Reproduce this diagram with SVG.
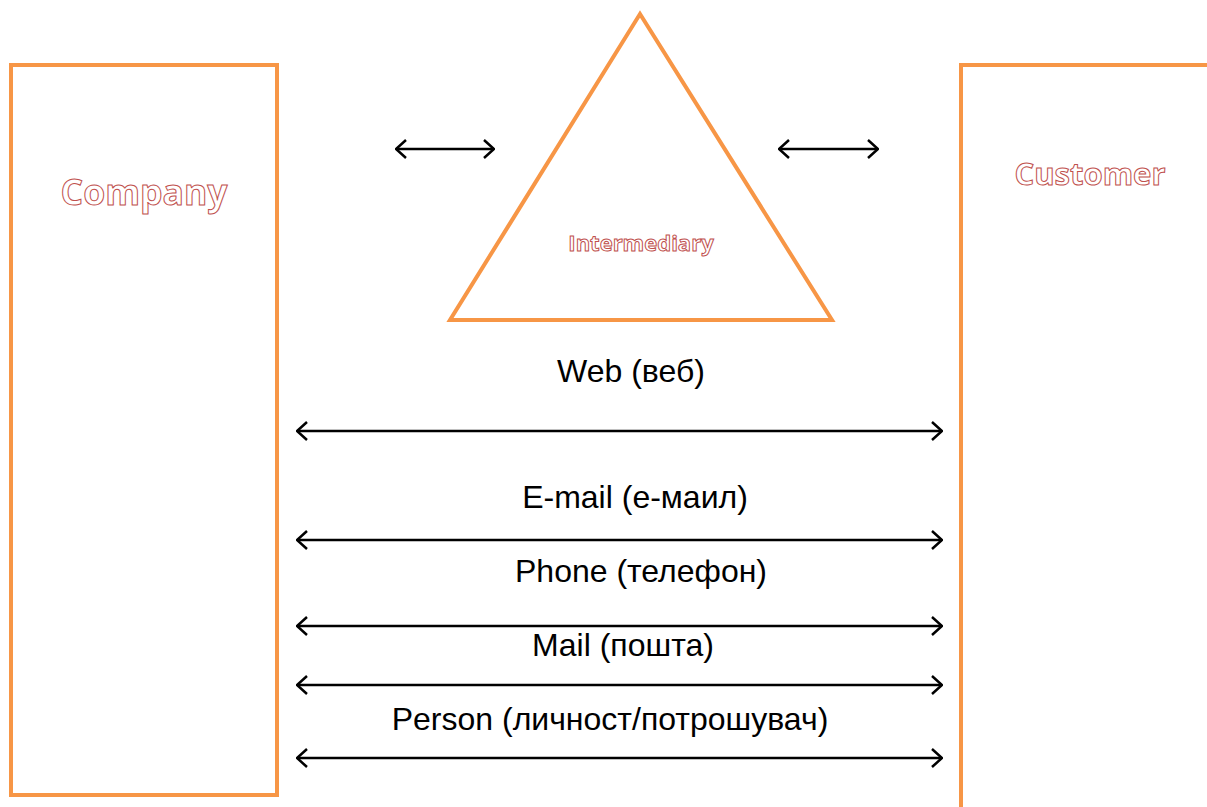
<svg xmlns="http://www.w3.org/2000/svg" width="1207" height="807" viewBox="0 0 1207 807">
<style>
.box{fill:none;stroke:#F79646;stroke-width:4}
.outline{font-family:"Open Sans","Liberation Sans",sans-serif;font-weight:bold;fill:#ffffff;stroke:#C0504D;stroke-width:1;text-anchor:middle}
.lbl{font-family:"Liberation Sans",Arial,sans-serif;font-size:32px;fill:#000;text-anchor:middle}
.conn{stroke:#000;stroke-width:2.5;fill:none;marker-start:url(#a);marker-end:url(#a)}
</style>
<defs>
<marker id="a" viewBox="0 0 12 20" refX="11" refY="10" markerWidth="12" markerHeight="20" markerUnits="userSpaceOnUse" orient="auto-start-reverse">
<polyline points="1,1 11,10 1,19" fill="none" stroke="#000" stroke-width="2.5"/>
</marker>
</defs>
<rect width="1207" height="807" fill="#fff"/>
<g id="company">
<rect class="box" x="11" y="65" width="266" height="730"/>
<text class="outline" x="144" y="205" font-size="35.5">Company</text>
</g>
<g id="customer">
<polyline class="box" points="961,807 961,65 1209,65"/>
<text class="outline" x="1090" y="185" font-size="31">Customer</text>
</g>
<g id="intermediary">
<polygon class="box" points="640,14 450,320 832,320"/>
<text class="outline" x="641" y="251" font-size="22">Intermediary</text>
</g>
<g id="connectors">
<line class="conn" x1="396" y1="149" x2="494" y2="149"/>
<line class="conn" x1="779" y1="149" x2="878" y2="149"/>
<line class="conn" x1="297" y1="431" x2="942" y2="431"/>
<line class="conn" x1="297" y1="540" x2="942" y2="540"/>
<line class="conn" x1="297" y1="626" x2="942" y2="626"/>
<line class="conn" x1="297" y1="685" x2="942" y2="685"/>
<line class="conn" x1="297" y1="758" x2="942" y2="758"/>
</g>
<g id="labels">
<text class="lbl" x="631" y="382">Web (веб)</text>
<text class="lbl" x="635" y="508">E-mail (е-маил)</text>
<text class="lbl" x="641" y="582">Phone (телефон)</text>
<text class="lbl" x="623" y="656">Mail (пошта)</text>
<text class="lbl" x="610" y="730">Person (личност/потрошувач)</text>
</g>
</svg>
